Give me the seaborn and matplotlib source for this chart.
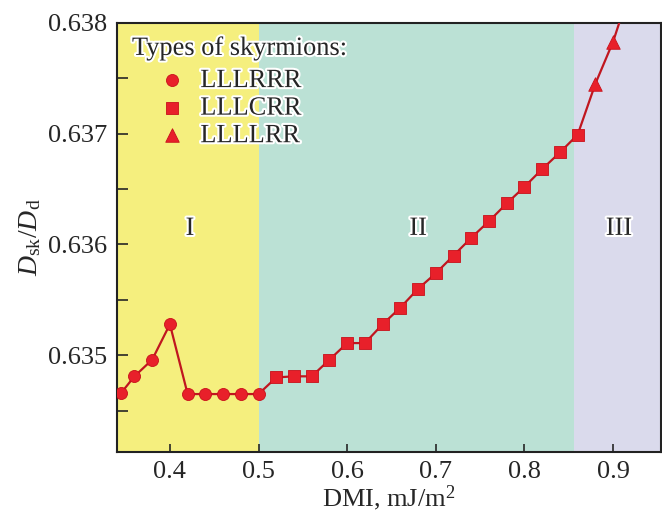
import seaborn as sns
import matplotlib.pyplot as plt
import matplotlib.patheffects as pe
import pandas as pd

# data
dmi_lllrrr = [0.345, 0.36, 0.38, 0.40, 0.42, 0.44, 0.46, 0.48, 0.50]
dsk_lllrrr = [0.63466, 0.63481, 0.63496, 0.63528, 0.63465, 0.63465, 0.63465, 0.63465, 0.63465]

dmi_lllcrr = [0.52, 0.54, 0.56, 0.58, 0.60, 0.62, 0.64, 0.66, 0.68, 0.70,
              0.72, 0.74, 0.76, 0.78, 0.80, 0.82, 0.84, 0.86]
dsk_lllcrr = [0.63480, 0.63481, 0.63481, 0.63496, 0.63511, 0.63511, 0.63528, 0.63543,
              0.63560, 0.63574, 0.63590, 0.63606, 0.63621, 0.63637, 0.63652, 0.63668,
              0.63683, 0.63699]

dmi_llllrr = [0.88, 0.90, 0.92]
dsk_llllrr = [0.63745, 0.63783, 0.63832]

region_edges = [0.34, 0.50, 0.856, 0.954]
region_colors = ["#f5ef7e", "#bbe1d5", "#dadaec"]
region_labels = ["I", "II", "III"]
region_label_x = [0.4226, 0.68, 0.9065]

types = ["LLLRRR", "LLLCRR", "LLLLRR"]

df = pd.DataFrame({
    "dmi": dmi_lllrrr + dmi_lllcrr + dmi_llllrr,
    "dsk": dsk_lllrrr + dsk_lllcrr + dsk_llllrr,
    "type": [types[0]] * len(dmi_lllrrr) + [types[1]] * len(dmi_lllcrr) + [types[2]] * len(dmi_llllrr),
})

sns.set_style("ticks")
plt.rcParams['font.family'] = ['Liberation Serif', 'DejaVu Serif']
plt.rcParams['mathtext.fontset'] = 'custom'
plt.rcParams['mathtext.rm'] = 'Liberation Serif'
plt.rcParams['mathtext.it'] = 'Liberation Serif:italic'

fs = 19
red = "#e8202a"
line_red = "#c0161f"
outline = [pe.withStroke(linewidth=3, foreground="white")]

fig = plt.figure(figsize=(6.62, 5.14), dpi=100)
ax = fig.add_axes([0.1763, 0.1212, 0.8222, 0.8346])

for i in range(3):
    ax.axvspan(region_edges[i], region_edges[i + 1], color=region_colors[i], lw=0, zorder=0)
    ax.text(region_label_x[i], 0.63614, region_labels[i], fontsize=fs, ha="center", va="center",
            path_effects=outline, zorder=2)

sns.lineplot(data=df, x="dmi", y="dsk", color=line_red, lw=1.6, ax=ax, zorder=3)

markers = {"LLLRRR": ("o", 75), "LLLCRR": ("s", 70), "LLLLRR": ("^", 95)}
handles = []
for t in types:
    sub = df[df["type"] == t]
    m, s = markers[t]
    sns.scatterplot(data=sub, x="dmi", y="dsk", marker=m, s=s, color=red,
                    edgecolor="#c8101a", linewidth=0.6, ax=ax, zorder=4, label=t)
    handles.append(ax.collections[-1])

ax.set_xlim(0.34, 0.954)
ax.set_ylim(0.63413, 0.638)
ax.set_xticks([0.4, 0.5, 0.6, 0.7, 0.8, 0.9])
ax.set_yticks([0.635, 0.636, 0.637, 0.638])
ax.set_yticks([0.6345, 0.6355, 0.6365, 0.6375], minor=True)
ax.tick_params(axis="y", which="both", direction="in", length=8, width=1.2, labelsize=fs, pad=7)
ax.tick_params(axis="x", which="both", direction="in", length=6, width=1.2, labelsize=fs, pad=7)
for sp in ax.spines.values():
    sp.set_linewidth(1.5)
    sp.set_color("#222222")

ax.set_xlabel("DMI, mJ/m$^2$", fontsize=fs, labelpad=0)
ax.set_ylabel("$D_{\\rm sk}/D_{\\rm d}$", fontsize=20)
ax.yaxis.set_label_coords(-0.135, 0.5)

ax.text(0.028, 0.925, "Types of skyrmions:", transform=ax.transAxes, fontsize=fs,
        ha="left", va="baseline", path_effects=outline, zorder=5)
leg = ax.legend(handles=handles, labels=types, loc="upper left", bbox_to_anchor=(0.078, 0.893),
                frameon=False, fontsize=fs, handlelength=1.0, handletextpad=0.56,
                labelspacing=0.155, borderpad=0, borderaxespad=0)
for txt in leg.get_texts():
    txt.set_path_effects(outline)

fig.savefig("out.png", dpi=100)
